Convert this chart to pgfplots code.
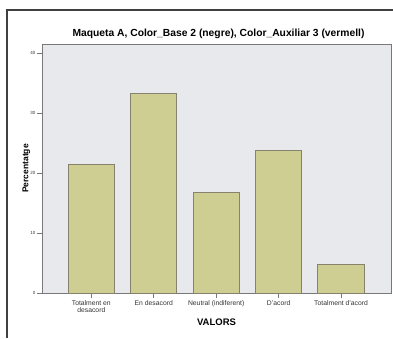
\documentclass[border=0pt]{standalone}
\usepackage{pgfplots}
\pgfplotsset{compat=1.18}
\usepackage{fontspec}
\setmainfont{Liberation Sans}
\definecolor{plotbg}{RGB}{232,233,237}
\definecolor{barfill}{RGB}{206,205,146}
\definecolor{baredge}{RGB}{135,130,110}
\definecolor{axisgray}{RGB}{120,120,120}
\begin{document}
\begin{tikzpicture}
\path[use as bounding box] (-42pt,-45pt) rectangle (351pt,293pt);
\draw[line width=1.2pt, black!75] (-35pt,-45pt) -- (-35pt,283pt) -- (351pt,283pt);
\begin{axis}[
  at={(0pt,0pt)}, anchor=south west,
  scale only axis, width=349pt, height=249pt,
  xmin=-0.79, xmax=4.8, ymin=0, ymax=41.5,
  axis background/.style={fill=plotbg},
  axis line style={draw=axisgray, line width=0.8pt},
  ybar, bar width=0.74,
  xtick={0,1,2,3,4},
  xticklabels={{Totalment en\\desacord},{En desacord},{Neutral (indiferent)},{D'acord},{Totalment d'acord}},
  xticklabel style={font=\fontsize{6.8}{7}\selectfont, align=center, text=black!80, inner sep=2pt},
  ytick={0,10,20,30,40},
  yticklabel style={font=\fontsize{4.5}{5}\selectfont, text=black!80, inner sep=1.5pt},
  /pgf/number format/assume math mode=true,
  tick align=outside, tick pos=left,
  major tick length=5pt,
  tick style={draw=axisgray, line width=0.8pt},
  title={Maqueta A, Color\_Base 2 (negre), Color\_Auxiliar 3 (vermell)},
  title style={font=\fontsize{10.3}{11}\selectfont\bfseries, at={(axis description cs:0.5,1)}, anchor=center, yshift=4.5pt, xshift=2pt},
  xlabel={VALORS},
  xlabel style={font=\fontsize{9.5}{10}\selectfont\bfseries, at={(axis description cs:0.5,0)}, anchor=center, yshift=-29pt},
  ylabel={Percentatge},
  ylabel style={font=\fontsize{8.5}{9}\selectfont\bfseries, at={(axis description cs:-0.045,0.5)}, anchor=center},
]
\addplot[fill=barfill, draw=baredge, line width=1pt] coordinates {
  (0,21.5) (1,33.3) (2,16.7) (3,23.7) (4,4.8)
};
\end{axis}
\end{tikzpicture}
\end{document}
